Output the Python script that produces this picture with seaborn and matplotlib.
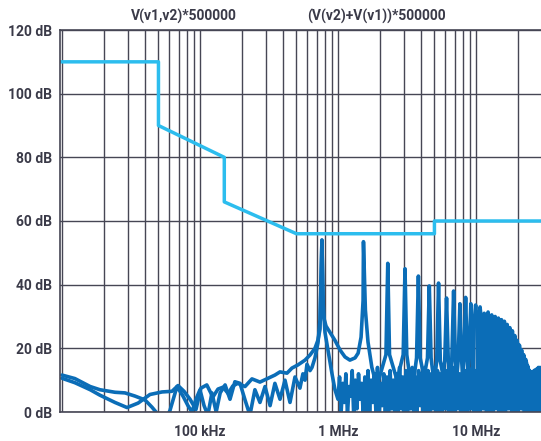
import numpy as np
import pandas as pd
import matplotlib
matplotlib.use('Agg')
import matplotlib.pyplot as plt
import seaborn as sns
from matplotlib.ticker import FixedLocator, LogLocator, NullFormatter

# limit mask (light blue)
limit_f = [9.67e3, 50e3, 50e3, 150e3, 150e3, 500e3, 5e6, 5e6, 3e7]
limit_db = [110, 110, 90, 80, 66, 56, 56, 60, 60]

# trace A, low part up to the 2nd harmonic
a_f = [10.0e3, 12.4e3, 16.0e3, 18.8e3, 24.2e3, 29.6e3, 35.6e3, 43.4e3, 53.1e3, 62.7e3,
       69.3e3, 76.6e3, 84.7e3, 93.5e3, 101.6e3, 112e3, 124e3, 135e3, 147e3, 160e3,
       173e3, 188e3, 212e3, 238e3, 272e3, 311e3, 349e3, 380e3, 427e3, 464e3,
       513e3, 577e3, 627e3, 681e3, 716e3, 741e3, 765e3, 785e3, 819e3, 875e3,
       951e3, 1.034e6, 1.124e6, 1.22e6, 1.33e6, 1.40e6, 1.47e6, 1.52e6, 1.53e6, 1.58e6,
       1.65e6, 1.76e6]
a_db = [10.6, 9.2, 7, 5.3, 3, 1.4, 2.8, 5.5, 6.3, 6.5,
        8.3, 6.5, 4, 0.8, 7.5, 8.5, 4.7, 7.2, 7.8, 5.8,
        8.2, 9, 8, 10.4, 9.4, 10.6, 11.6, 12.6, 12.2, 13.8,
        14.8, 16.3, 17.9, 20, 22.6, 26, 54, 30, 27, 25,
        22.5, 19.5, 17.3, 16.3, 17, 18.5, 23.5, 35, 53.5, 32,
        22, 14]

# harmonics n = 3..39 of the 765 kHz fundamental
f0 = 765e3
harm_n = list(range(3, 40))
peak_db = [46.7, 45, 42.7, 39.6, 40.5, 35.8, 38, 34, 36, 34,
           33.6, 33, 31, 31.4, 30.5, 30, 29.5, 29, 28.5, 27.5,
           26.5, 25.5, 24, 22.5, 21, 19.5, 18, 16.5, 14.5, 13,
           12.5, 12.8, 13.2, 13.5, 14, 14, 14]
skirt_db = [18, 18, 17, 17, 16, 16, 16, 16, 16, 17,
            27, 27, 26, 26, 25, 25, 24, 24, 23, 22,
            21, 20, 19, 18, 17, 16, 15, 14, 12, 11,
            10, 10, 10, 10, 10, 10, 10]
trough_db = [8, 10, 6, 11, 9, 12, 7, 11, 10, 12,
             6, 5, 7, 4, 6, 5, 7, 4, 6, 5,
             6, 4, 5, 3, 5, 4, 3, 4, 3, 2,
             3, 2, 3, 2, 3, 2, 3]

# trace B, low part
b_f = [10.0e3, 12.4e3, 16.0e3, 18.8e3, 24.2e3, 28.6e3, 33.8e3, 39.9e3, 44.9e3, 48e3,
       55.7e3, 60.6e3, 68.1e3, 75.3e3, 81.8e3, 87.5e3, 93.5e3, 100e3, 107e3, 114e3,
       122e3, 131e3, 140e3, 152e3, 165e3, 179e3, 195e3, 212e3, 230e3, 250e3,
       272e3, 296e3, 322e3, 349e3, 380e3, 413e3, 449e3, 488e3, 530e3, 557e3,
       577e3, 596e3, 627e3, 648e3, 681e3, 716e3, 741e3, 765e3, 778e3, 805e3,
       846e3, 905e3, 951e3]
b_db = [11.6, 10.5, 8, 7, 6.2, 6, 5, 3.8, 1.5, 0,
        -3, 0.5, 8, 5, 2, 0, 4, 7, 2, -1,
        6, 0, 6, 8.5, 4, 9.5, 9, 3.8, -1, 7,
        3, 8, 2, 9, 4, 10, 3, 11, 7.5, 12,
        10, 15, 13, 14, 17, 21.7, 29, 54, 35, 25,
        19.5, 12, 7]

# trace B noise floor 1 MHz .. 30 MHz
floor_db = [
    4, 11, 0, 9, 3, 12, -1, 8, 5, 13, -2, 10, 1, 12, 4, 9, -1, 11, 0, 13,
    -1, 10, 3, 12, 0, 14, -2, 9, 2, 12, -1, 11, 0, 13, 1, 10, -1, 12, 0, 14,
    1, 11, -1, 13, 0, 12, 1, 14, -1, 11, 0, 13, 2, 12, -1, 14, 0, 13, -1, 12,
    1, 14, -1, 13, 0, 12, -1, 14, 1, 13, -1, 12, 0, 14, -1, 13, 1, 12, -1, 14,
    0, 13, -1, 12, 1, 14, -1, 13, 0, 12, -1, 13, 1, 14, -1, 12, 0, 13, -1, 12,
    1, 13, -1, 12, 0, 11, -1, 12, 1, 11, -1, 12, 0, 11, -1, 10, 1, 11, -1, 10,
    0, 11, -1, 10, 0, 9, -1, 10, -1, 9,
]

y_ticks = [0, 20, 40, 60, 80, 100, 120]
x_ticks = [1e5, 1e6, 1e7]
x_labels = ['100 kHz', '1 MHz', '10 MHz']

# build traces
hf, hd = [], []
for n, p, s, t in zip(harm_n, peak_db, skirt_db, trough_db):
    hf += [(n - 0.5) * f0, n * 0.97 * f0, n * f0, n * 1.03 * f0]
    hd += [t, s, p, s]
trace_a = pd.DataFrame({'f': a_f + hf, 'db': a_db + hd})
floor_f = np.geomspace(1.0e6, 3.0e7, len(floor_db))
trace_b = pd.DataFrame({'f': b_f + list(floor_f), 'db': b_db + floor_db})
limit = pd.DataFrame({'f': limit_f, 'db': limit_db})

sns.set_theme(style='white')
plt.rcParams['font.family'] = ['Roboto', 'DejaVu Sans']
txt = '#3a3a48'
grid_c = '#464654'

fig = plt.figure(figsize=(5.41, 4.41), dpi=100)
ax = fig.add_axes([60 / 541, 1 - 412 / 441, 481 / 541, 382 / 441])

dark = '#0b6db7'
sns.lineplot(data=trace_b, x='f', y='db', sort=False, estimator=None, color=dark, lw=2.6, ax=ax)
sns.lineplot(data=trace_a, x='f', y='db', sort=False, estimator=None, color=dark, lw=2.6, ax=ax)
sns.lineplot(data=limit, x='f', y='db', sort=False, estimator=None, color='#2cbdee', lw=2.5, ax=ax)

ax.set_xscale('log')
ax.set_xlim(9.67e3, 2.96e7)
ax.set_ylim(0, 120)
ax.xaxis.set_major_locator(FixedLocator(x_ticks))
ax.set_xticklabels(x_labels)
ax.xaxis.set_minor_locator(LogLocator(base=10, subs=np.arange(1, 10)))
ax.xaxis.set_minor_formatter(NullFormatter())
ax.set_yticks(y_ticks)
ax.set_yticklabels([f'{v} dB' for v in y_ticks])
ax.set_axisbelow(True)
ax.grid(which='both', axis='x', color=grid_c, lw=1.0)
ax.grid(which='major', axis='y', color=grid_c, lw=1.0)
ax.tick_params(which='both', length=0)
ax.tick_params(axis='y', pad=6, labelsize=10, labelcolor=txt)
ax.tick_params(axis='x', pad=9, labelsize=10, labelcolor=txt)
for lab in ax.get_xticklabels() + ax.get_yticklabels():
    lab.set_fontweight('bold')
ax.set_xlabel('')
ax.set_ylabel('')
for side in ['left', 'bottom', 'top']:
    ax.spines[side].set_color(grid_c)
    ax.spines[side].set_linewidth(1.2)
ax.spines['right'].set_visible(False)

fig.text(184 / 541, 1 - 16 / 441, 'V(v1,v2)*500000', ha='center', va='center',
         fontsize=10, fontweight='bold', color=txt)
fig.text(376 / 541, 1 - 16 / 441, '(V(v2)+V(v1))*500000', ha='center', va='center',
         fontsize=10, fontweight='bold', color=txt)

fig.savefig('out.png', dpi=100)
